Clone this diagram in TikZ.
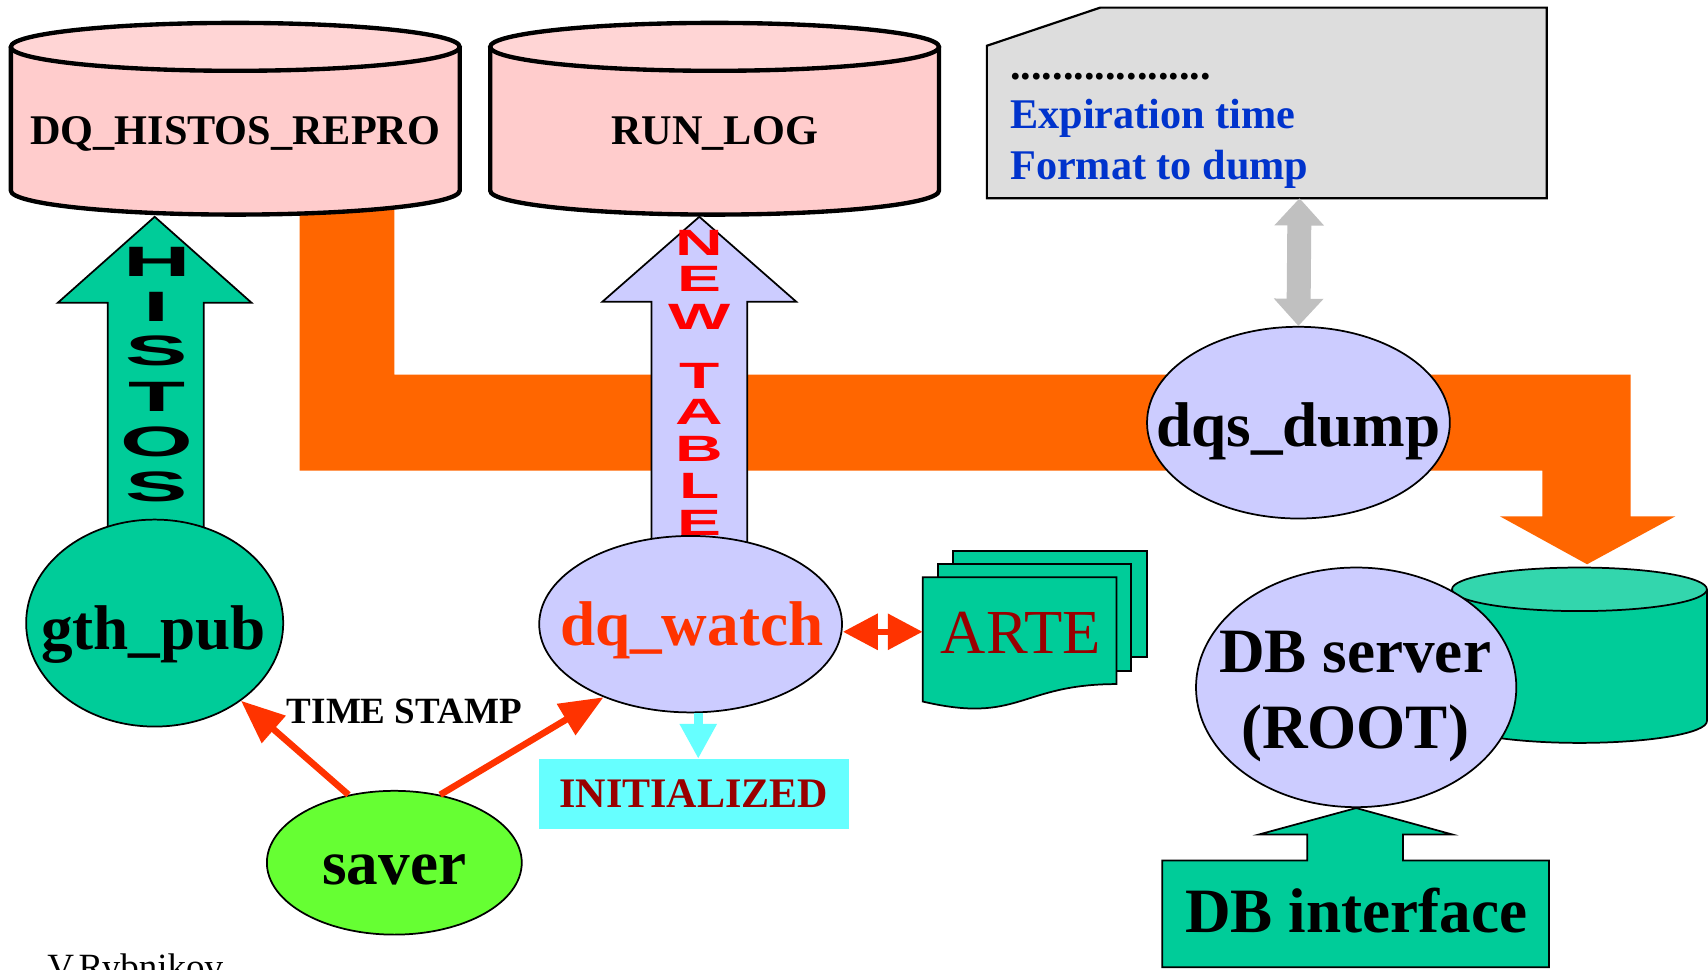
\documentclass[tikz,border=0pt]{standalone}
\usepackage{fontspec}
\setmainfont{Liberation Serif}
\newfontfamily\arialfont{Liberation Sans}
\usetikzlibrary{arrows.meta,shapes.geometric}
\definecolor{pinkbody}{HTML}{FFCCCC}
\definecolor{pinktop}{HTML}{FFD5D5}
\definecolor{orng}{HTML}{FF6600}
\definecolor{grn}{HTML}{00CC99}
\definecolor{grntop}{HTML}{33D6AD}
\definecolor{lav}{HTML}{CCCCFF}
\definecolor{redarr}{HTML}{FF3300}
\definecolor{cyn}{HTML}{66FFFF}
\definecolor{dkred}{HTML}{990000}
\definecolor{limeg}{HTML}{66FF33}
\definecolor{notegray}{HTML}{DDDDDD}
\definecolor{arrgray}{HTML}{C0C0C0}
\definecolor{bluetxt}{HTML}{0033CC}
\definecolor{newred}{HTML}{FF0000}
\begin{document}
\begin{tikzpicture}[x=0.5pt,y=-0.5pt,
  oval/.style={ellipse, draw=black, line width=0.8pt, inner sep=0pt},
  bigtxt/.style={font=\fontsize{29pt}{35pt}\selectfont\bfseries, inner sep=0pt, anchor=base},
  cyltxt/.style={font=\fontsize{19.4pt}{23pt}\selectfont\bfseries, inner sep=0pt, anchor=base},
  notetxt/.style={font=\fontsize{19.4pt}{23pt}\selectfont\bfseries, text=bluetxt, inner sep=0pt, anchor=base west},
  histo/.style={font=\arialfont\bfseries\fontsize{19.5pt}{20pt}\selectfont, inner sep=0pt},
  newt/.style={font=\arialfont\bfseries\fontsize{16.8pt}{17pt}\selectfont, text=newred, inner sep=0pt},
  redline/.style={draw=redarr, line width=3pt, -{Triangle[length=20pt,width=16pt]}},
  blockline/.style={draw=black, line width=0.8pt},
]
\useasboundingbox[fill=white] (0,0) rectangle (1568,890);

% orange flow band
\fill[orng] (275,190) -- (362,190) -- (362,344) -- (1497,344) -- (1497,474) -- (1538,474)
  -- (1457,518) -- (1377,474) -- (1416,474) -- (1416,432) -- (275,432) -- cycle;

% pink cylinders
\foreach \cx in {216,656}{
  \fill[pinkbody] (\cx-206,43) -- (\cx-206,175) arc[start angle=180,end angle=0,x radius=206,y radius=22] -- (\cx+206,43) -- cycle;
  \draw[line width=2pt] (\cx-206,43) -- (\cx-206,175) arc[start angle=180,end angle=0,x radius=206,y radius=22] -- (\cx+206,43);
  \draw[fill=pinktop,line width=2pt] (\cx,43) ellipse[x radius=206,y radius=22];
}
\node[cyltxt] (repro) at (216,133) {DQ\_HISTOS\_REPRO};
\node[cyltxt] (runlog) at (656,133) {RUN\_LOG};

% block arrows up
\draw[blockline, fill=grn] (99,500) -- (99,278) -- (53,278) -- (142,199) -- (231,278) -- (187,278) -- (187,500) -- cycle;
\draw[blockline, fill=lav] (598,520) -- (598,277) -- (553,277) -- (642,199) -- (731,277) -- (686,277) -- (686,520) -- cycle;
\foreach \l/\yy [count=\i] in {H/240,I/282,S/322,T/364,O/406,S/447}
  \node[histo] (histo\i) at (144,\yy) {\scalebox{2.2}[1]{\l}};
\foreach \l/\yy [count=\i] in {N/223,E/256,W/291,T/345,A/378,B/412,L/446,E/480}
  \node[newt] (newt\i) at (642,\yy) {\scalebox{1.8}[1]{\l}};

% note box
\draw[fill=notegray, line width=1pt] (906,42) -- (1010,7) -- (1420,7) -- (1420,182) -- (906,182) -- cycle;
\coordinate (noteb) at (1193,182);
\node[notetxt, text=black] (dots) at (927,73) {...................};
\node[notetxt] (exp) at (927,118) {Expiration time};
\node[notetxt] (fmt) at (927,165) {Format to dump};

% ellipses
\node[oval, fill=grn, minimum width=118pt, minimum height=95pt] (gth) at (142,572) {};
\node[oval, fill=lav, minimum width=139pt, minimum height=81pt] (dqw) at (634,573) {};
\node[oval, fill=lav, minimum width=139pt, minimum height=88pt] (dqs) at (1192,388) {};
\node[oval, fill=limeg, minimum width=117pt, minimum height=66pt] (saver) at (362,792) {};

\draw[arrgray, line width=11pt, {Triangle[length=12.5pt,width=22pt]}-{Triangle[length=12.5pt,width=22pt]}] (noteb) -- (dqs.north);

% ARTE documents
\draw[blockline, fill=grn] (875,506) rectangle (1053,603);
\draw[blockline, fill=grn] (861,518) rectangle (1038,616);
\draw[blockline, fill=grn] (847,530) -- (1025,530) -- (1025,628) .. controls (936,628) and (936,665) .. (847,644) -- cycle;
\node[inner sep=0pt, anchor=base, font=\fontsize{28.75pt}{34pt}\selectfont, text=dkred] (arte) at (937,600) {ARTE};
\coordinate (artel) at (847,580);

% arrows around dq_watch
\draw[draw=redarr, line width=3pt, {Triangle[length=16pt,width=16pt]}-{Triangle[length=16pt,width=16pt]}] (artel -| dqw.east) -- (artel);
\node[fill=cyn, inner sep=0pt, minimum width=142.5pt, minimum height=32pt, font=\fontsize{19.3pt}{23pt}\selectfont\bfseries, text=dkred] (init) at (637,729) {INITIALIZED};
\coordinate (cyx) at (641,0);
\draw[cyn, line width=4pt, -{Triangle[length=16pt,width=16pt]}] (dqw.south -| cyx) -- (init.north -| cyx);

\draw[redline] (saver.124) -- (gth.-42);
\draw[redline] (saver.56) -- (dqw.220);
\node[inner sep=0pt, anchor=base west, font=\fontsize{17pt}{20pt}\selectfont\bfseries] (stamp) at (263,664) {TIME STAMP};

% green cylinder
\fill[grn] (1333,541) -- (1333,662) arc[start angle=180,end angle=0,x radius=117,y radius=20] -- (1567,541) -- cycle;
\draw[line width=0.8pt] (1333,541) -- (1333,662) arc[start angle=180,end angle=0,x radius=117,y radius=20] -- (1567,541);
\draw[fill=grntop,line width=0.8pt] (1450,541) ellipse[x radius=117,y radius=20];

\node[oval, fill=lav, minimum width=147pt, minimum height=110pt] (dbs) at (1245,631) {};
\draw[blockline, fill=grn] (1067,790) -- (1200,790) -- (1200,766) -- (1156,766) -- (dbs.south) -- (1333,766)
  -- (1288,766) -- (1288,790) -- (1422,790) -- (1422,888) -- (1067,888) -- cycle;

% texts
\node[bigtxt] (gthtxt) at (141,596) {gth\_pub};
\node[bigtxt, text=redarr] (dqwtxt) at (635,593) {dq\_watch};
\node[bigtxt] (dqstxt) at (1192,410) {dqs\_dump};
\node[bigtxt] (savertxt) at (362,812) {saver};
\node[bigtxt] (dbstxt1) at (1244,617) {DB server};
\node[bigtxt] (dbstxt2) at (1244,687) {(ROOT)};
\node[bigtxt] (dbitxt) at (1245,856) {DB interface};
\node[inner sep=0pt, anchor=base west, font=\fontsize{17pt}{20pt}\selectfont] (author) at (43,899) {V.Rybnikov};
\end{tikzpicture}
\end{document}
